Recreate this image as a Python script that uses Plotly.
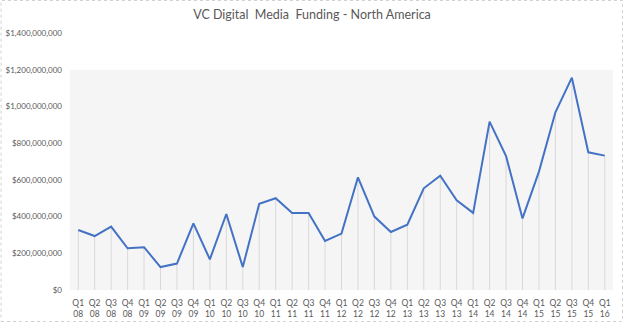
import plotly.graph_objects as go

quarters = ["Q1","Q2","Q3","Q4","Q1","Q2","Q3","Q4","Q1","Q2","Q3","Q4","Q1","Q2","Q3","Q4",
            "Q1","Q2","Q3","Q4","Q1","Q2","Q3","Q4","Q1","Q2","Q3","Q4","Q1","Q2","Q3","Q4","Q1"]
years = ["08"]*4 + ["09"]*4 + ["10"]*4 + ["11"]*4 + ["12"]*4 + ["13"]*4 + ["14"]*4 + ["15"]*4 + ["16"]
funding = [327e6, 294e6, 345e6, 227e6, 233e6, 125e6, 144e6, 363e6,
           167e6, 414e6, 125e6, 470e6, 500e6, 420e6, 420e6, 267e6,
           307e6, 614e6, 400e6, 316e6, 356e6, 554e6, 623e6, 489e6,
           420e6, 917e6, 730e6, 390e6, 645e6, 968e6, 1157e6, 750e6, 732e6]
y_ticks = [0, 200e6, 400e6, 600e6, 800e6, 1000e6, 1200e6, 1400e6]
shade_top = 1200e6

labels = [f"{q}<br>{y}" for q, y in zip(quarters, years)]
xs = list(range(len(funding)))

fig = go.Figure()
fig.add_trace(go.Scatter(
    x=xs, y=funding, mode="markers", marker=dict(size=0.1, opacity=0),
    error_y=dict(type="data", symmetric=False, array=[0]*len(funding),
                 arrayminus=funding, width=0, thickness=1, color="#d9d9d9"),
    hoverinfo="skip", showlegend=False))
fig.add_trace(go.Scatter(
    x=xs, y=funding, mode="lines", line=dict(color="#4472c4", width=2),
    showlegend=False))

fig.add_shape(type="rect", xref="x", yref="y", x0=-0.5, x1=len(funding)-0.5,
              y0=0, y1=shade_top, fillcolor="#f5f5f5", line=dict(width=0), layer="below")

L, R, T, B = 69.5, 11, 33, 33
W, H = 624, 323
pw, ph = W - L - R, H - T - B
fig.add_shape(type="rect", xref="paper", yref="paper",
              x0=(0.5 - L)/pw, x1=(W - 1.5 - L)/pw,
              y0=-(B - 1.5)/ph, y1=(H - B - 0.5)/ph,
              line=dict(color="#d0d0d0", width=1, dash="dot"), fillcolor="rgba(0,0,0,0)")

fig.update_layout(
    width=W, height=H,
    margin=dict(l=L, r=R, t=T, b=B),
    paper_bgcolor="white", plot_bgcolor="white",
    title=dict(text="VC Digital  Media  Funding - North America", x=0.5, xref="container",
               xanchor="center", y=1 - 15/H, yanchor="middle",
               font=dict(family="Lato", size=12.5, color="#595959")),
    font=dict(family="Lato", size=9, color="#595959"),
    xaxis=dict(range=[-0.5, len(funding)-0.5], tickmode="array", tickvals=xs, ticktext=labels,
               showgrid=False, zeroline=False, showline=False, ticks="", automargin=False,
               tickfont=dict(size=8.5, color="#595959"), tickangle=0, ticklabelstandoff=6),
    yaxis=dict(range=[0, 1400e6], tickmode="array", tickvals=y_ticks,
               ticktext=["$0"] + [f"${v:,.0f}" for v in y_ticks[1:]],
               showgrid=False, zeroline=False, showline=False, ticks="", automargin=False,
               tickfont=dict(size=8, color="#595959"), ticklabelstandoff=7),
)
fig.write_html("out.html")
